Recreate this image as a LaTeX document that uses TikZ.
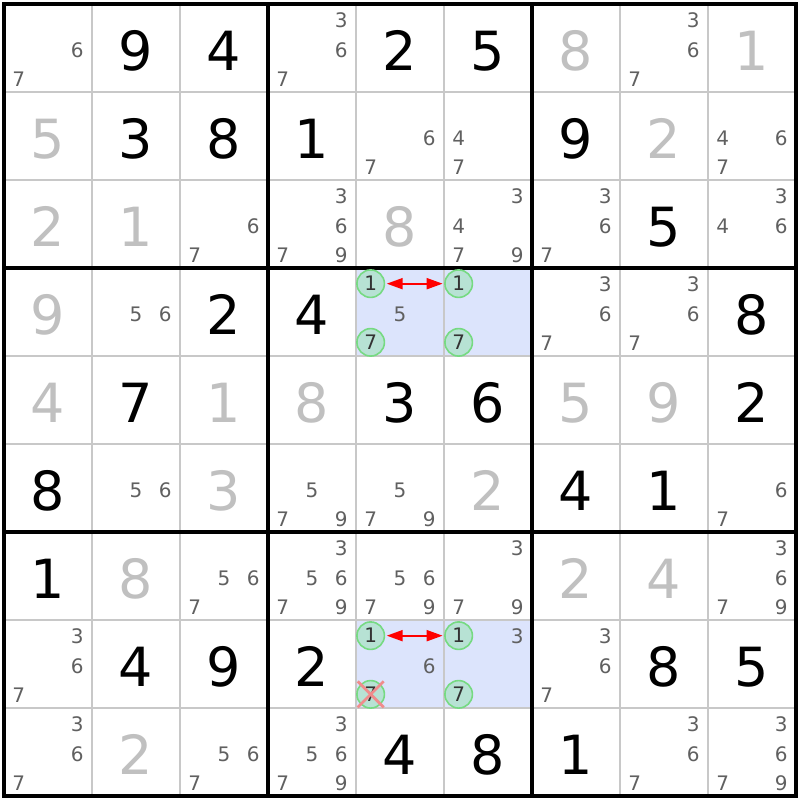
\documentclass[tikz,border=0pt]{standalone}
\usepackage{fontspec}
\setmainfont{DejaVu Sans}
\usetikzlibrary{arrows.meta}
\definecolor{solvedgray}{RGB}{192,192,192}
\definecolor{candgray}{RGB}{96,96,96}
\definecolor{thingray}{RGB}{200,200,200}
\definecolor{pickbg}{RGB}{220,228,252}
\definecolor{pickfill}{RGB}{183,226,212}
\definecolor{pickline}{RGB}{118,218,130}
\definecolor{crossred}{RGB}{240,140,140}

\begin{document}
\begin{tikzpicture}[x=88pt,y=-88pt,
    given/.style={font=\fontsize{54}{54}\selectfont,inner sep=0pt,text height=39.4pt,text depth=0pt,yshift=-3pt},
    solved/.style={given,text=solvedgray},
    cand/.style={font=\fontsize{20}{20}\selectfont,text=candgray,inner sep=0pt,text height=14.6pt,text depth=0pt,yshift=-2pt},
    pick/.style={circle,draw=pickline,fill=pickfill,line width=1.6pt,minimum size=27.5pt,inner sep=0pt,yshift=-1pt,
      font=\fontsize{20}{20}\selectfont,text=black!80,text height=14.6pt,text depth=0pt},
    link/.style={red,line width=2pt,{Triangle[length=16pt,width=11pt]}-{Triangle[length=16pt,width=11pt]},shorten <=1.5pt,shorten >=1.5pt},
    strike/.style={crossred,line width=2.8pt}]
      \useasboundingbox (-0.04545,-0.04545) rectangle (9.04545,9.04545);
      \fill[pickbg] (4,3) rectangle (6,4);
      \fill[pickbg] (4,7) rectangle (6,8);
      \foreach \k in {1,2,4,5,7,8} {
        \draw[thingray,line width=1.9pt] (\k,0) -- (\k,9);
        \draw[thingray,line width=1.9pt] (0,\k) -- (9,\k);
      }
      \foreach \k in {0,3,6,9} {
        \draw[line width=3.3pt] (\k,0) -- (\k,9);
        \draw[line width=3.3pt] (0,\k) -- (9,\k);
      }
      \draw[line width=3.3pt] (0,0) rectangle (9,9);
      \foreach \r/\c/\d in {0/1/9,0/2/4,0/4/2,0/5/5,1/1/3,1/2/8,1/3/1,1/6/9,2/7/5,
          3/2/2,3/3/4,3/8/8,4/1/7,4/4/3,4/5/6,4/8/2,5/0/8,5/6/4,5/7/1,6/0/1,
          7/1/4,7/2/9,7/3/2,7/7/8,7/8/5,8/4/4,8/5/8,8/6/1}
        \node[given] (g\r\c) at (\c+0.5,\r+0.5) {\d};
      \foreach \r/\c/\d in {0/6/8,0/8/1,1/0/5,1/7/2,2/0/2,2/1/1,2/4/8,3/0/9,
          4/0/4,4/2/1,4/3/8,4/6/5,4/7/9,5/2/3,5/5/2,6/1/8,6/6/2,6/7/4,8/1/2}
        \node[solved] (s\r\c) at (\c+0.5,\r+0.5) {\d};
      \foreach \r/\c/\n in {0/0/6,0/0/7,0/3/3,0/3/6,0/3/7,0/7/3,0/7/6,0/7/7,
          1/4/6,1/4/7,1/5/4,1/5/7,1/8/4,1/8/6,1/8/7,
          2/2/6,2/2/7,2/3/3,2/3/6,2/3/7,2/3/9,2/5/3,2/5/4,2/5/7,2/5/9,
          2/6/3,2/6/6,2/6/7,2/8/3,2/8/4,2/8/6,
          3/1/5,3/1/6,3/4/5,3/6/3,3/6/6,3/6/7,3/7/3,3/7/6,3/7/7,
          5/1/5,5/1/6,5/3/5,5/3/7,5/3/9,5/4/5,5/4/7,5/4/9,5/8/6,5/8/7,
          6/2/5,6/2/6,6/2/7,6/3/3,6/3/5,6/3/6,6/3/7,6/3/9,6/4/5,6/4/6,6/4/7,6/4/9,
          6/5/3,6/5/7,6/5/9,6/8/3,6/8/6,6/8/7,6/8/9,
          7/0/3,7/0/6,7/0/7,7/4/6,7/5/3,7/6/3,7/6/6,7/6/7,
          8/0/3,8/0/6,8/0/7,8/2/5,8/2/6,8/2/7,8/3/3,8/3/5,8/3/6,8/3/7,8/3/9,
          8/7/3,8/7/6,8/7/7,8/8/3,8/8/6,8/8/7,8/8/9} {
        \pgfmathsetmacro\kx{\c+(mod(\n-1,3)+0.5)/3}
        \pgfmathsetmacro\ky{\r+(floor((\n-1)/3)+0.5)/3}
        \node[cand] (k\r\c\n) at (\kx,\ky) {\n};
      }
      \node[pick] (a1) at (4.1667,3.1667) {1};
      \node[pick] (a7) at (4.1667,3.8333) {7};
      \node[pick] (b1) at (5.1667,3.1667) {1};
      \node[pick] (b7) at (5.1667,3.8333) {7};
      \node[pick] (c1) at (4.1667,7.1667) {1};
      \node[pick] (c7) at (4.1667,7.8333) {7};
      \node[pick] (d1) at (5.1667,7.1667) {1};
      \node[pick] (d7) at (5.1667,7.8333) {7};
      \draw[link] (a1) -- (b1);
      \draw[link] (c1) -- (d1);
      \draw[strike] ([shift={(-13pt,13pt)}]c7.center) -- ([shift={(13pt,-13pt)}]c7.center);
      \draw[strike] ([shift={(-13pt,-13pt)}]c7.center) -- ([shift={(13pt,13pt)}]c7.center);
    \end{tikzpicture}
\end{document}
